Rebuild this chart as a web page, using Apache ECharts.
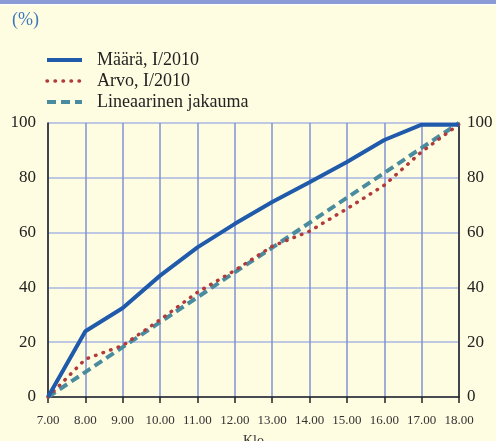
<!DOCTYPE html>
<html><head><meta charset="utf-8">
<script src="https://cdn.jsdelivr.net/npm/echarts@6/dist/echarts.min.js"></script>
<style>html,body{margin:0;padding:0;background:#fffde1;}#c{width:496px;height:441px;}</style>
</head><body><div id="c"></div>
<script>
const hours = ['7.00','8.00','9.00','10.00','11.00','12.00','13.00','14.00','15.00','16.00','17.00','18.00'];
const maara = [0, 24, 32.5, 44.3, 54.6, 63.2, 71.2, 78.4, 85.8, 93.8, 99.4, 99.4];
const arvo = [0, 13.8, 18.8, 28.2, 38.2, 46.2, 55, 60.5, 68.7, 77.3, 89.5, 99.5];
const lineaarinen = [0, 9.1, 18.2, 27.3, 36.4, 45.5, 54.5, 63.6, 72.7, 81.8, 90.9, 100];
const yTicks = [0, 20, 40, 60, 80, 100];

const serif = 'Liberation Serif';
const chart = echarts.init(document.getElementById('c'));
chart.setOption({
  backgroundColor: '#fffde1',
  animation: false,
  graphic: [
    {type:'rect', left:0, top:0, shape:{width:496, height:4}, style:{fill:'#8b9bd5'}},
    {type:'rect', left:0, top:4, shape:{width:496, height:1}, style:{fill:'#ffffff'}},
    {type:'text', left:12, top:11, style:{text:'(%)', fill:'#3d78bd', font:'18px "Liberation Serif"'}}
  ],
  legend: {
    orient: 'vertical', left: 45, top: 51, padding: 0,
    itemWidth: 35, itemHeight: 14, itemGap: 3,
    itemStyle: {opacity: 0},
    textStyle: {fontFamily: serif, fontSize: 18, color: '#222', lineHeight: 15, padding:[0,0,0,10]},
    data: [
      {name: 'Määrä, I/2010', lineStyle: {width: 4}},
      {name: 'Arvo, I/2010', lineStyle: {width: 3.5}},
      {name: 'Lineaarinen jakauma', lineStyle: {width: 4}}
    ]
  },
  grid: {left: 48, right: 37, top: 123, bottom: 44, outerBoundsMode: 'none'},
  xAxis: {
    type: 'category', data: hours, boundaryGap: false,
    name: 'Klo', nameLocation: 'middle', nameGap: 37,
    nameTextStyle: {fontFamily: serif, fontSize: 14, color: '#333'},
    axisLine: {lineStyle: {color: '#222', width: 1.5}},
    axisTick: {show: true, length: 6, interval: 0, lineStyle: {color: '#222', width: 1.5}},
    axisLabel: {fontFamily: serif, fontSize: 13, color: '#333', margin: 17, interval: 0},
    splitLine: {show: true, interval: 0, lineStyle: {color: '#8192d3', width: 1.5}}
  },
  yAxis: [
    {type: 'value', min: 0, max: 100, interval: 20, position: 'left',
     axisLine: {show: true, lineStyle: {color: '#222', width: 1.5}},
     axisTick: {show: false},
     axisLabel: {fontFamily: serif, fontSize: 17, color: '#222', margin: 12},
     splitLine: {show: true, lineStyle: {color: '#aab6e2', width: 1.5}}},
    {type: 'value', min: 0, max: 100, interval: 20, position: 'right',
     axisLine: {show: true, lineStyle: {color: '#222', width: 1.5}},
     axisTick: {show: false},
     axisLabel: {fontFamily: serif, fontSize: 17, color: '#222', margin: 8},
     splitLine: {show: false}}
  ],
  series: [
    {name: 'Lineaarinen jakauma', type: 'line', data: lineaarinen, symbol: 'none', z: 3,
     lineStyle: {color: '#4a8c9f', width: 4, type: [9, 5]}, itemStyle: {color: '#4a8c9f'}},
    {name: 'Arvo, I/2010', type: 'line', data: arvo, symbol: 'none', z: 4,
     lineStyle: {color: '#b23a3a', width: 3.5, type: [0.5, 7.5], cap: 'round'}, itemStyle: {color: '#b23a3a'}},
    {name: 'Määrä, I/2010', type: 'line', data: maara, symbol: 'none', z: 5,
     lineStyle: {color: '#1f5aab', width: 4}, itemStyle: {color: '#1f5aab'}}
  ]
});
</script></body></html>
